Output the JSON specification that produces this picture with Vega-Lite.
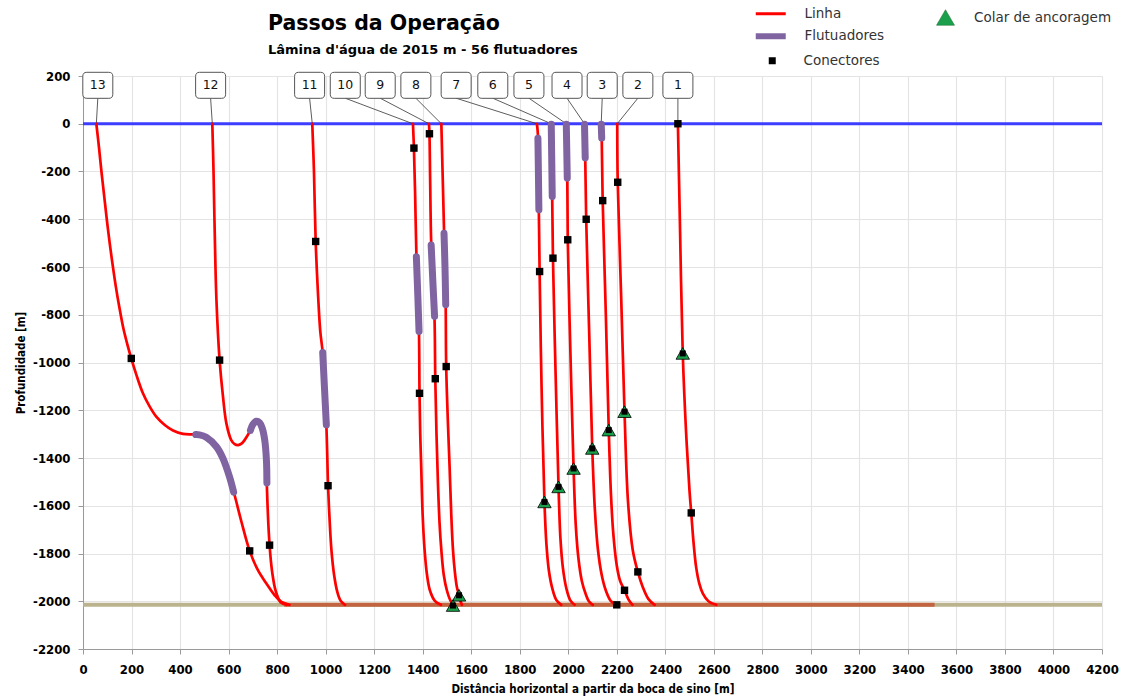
{
  "$schema": "https://vega.github.io/schema/vega-lite/v6.json",
  "width": 1019,
  "height": 573,
  "autosize": {"type": "none"},
  "padding": {"left": 83, "top": 76, "right": 19, "bottom": 51},
  "background": "white",
  "title": {
    "text": "Passos da Operação",
    "subtitle": "Lâmina d'água de 2015 m - 56 flutuadores",
    "anchor": "start",
    "frame": "group",
    "dx": 185,
    "offset": -50,
    "font": "DejaVu Sans",
    "fontSize": 20.5,
    "fontWeight": "bold",
    "color": "#000000",
    "subtitleFont": "DejaVu Sans",
    "subtitleFontSize": 13,
    "subtitleFontWeight": "bold",
    "subtitleColor": "#000000",
    "subtitlePadding": 10
  },
  "config": {
    "view": {"stroke": null},
    "axis": {
      "domainColor": "#9a9a9a",
      "tickColor": "#9a9a9a",
      "gridColor": "#e4e4e4",
      "gridWidth": 1.2,
      "tickSize": 5,
      "labelFont": "DejaVu Sans Condensed, DejaVu Sans",
      "labelFontWeight": "bold",
      "labelFontSize": 13,
      "labelColor": "#000000",
      "labelExpr": "'' + datum.value",
      "titleFont": "DejaVu Sans Condensed, DejaVu Sans",
      "titleFontWeight": "bold",
      "titleFontSize": 11.5,
      "titleColor": "#000000"
    },
    "legend": {
      "labelFont": "DejaVu Sans",
      "labelFontSize": 13.5,
      "labelColor": "#333333",
      "padding": 0
    }
  },
  "datasets": {
    "superficie": [{"y": 0}],
    "fundo": [{"y": -2015}],
    "trecho": [{"x": 830, "x2": 3510, "y": -2015}],
    "rotulos": [
      {"n": "13", "x": 61, "cx": 55},
      {"n": "12", "x": 526, "cx": 533},
      {"n": "11", "x": 934, "cx": 945},
      {"n": "10", "x": 1081, "cx": 1360},
      {"n": "9", "x": 1225, "cx": 1426},
      {"n": "8", "x": 1372, "cx": 1477},
      {"n": "7", "x": 1538, "cx": 1871},
      {"n": "6", "x": 1689, "cx": 1930},
      {"n": "5", "x": 1838, "cx": 1992},
      {"n": "4", "x": 1995, "cx": 2067},
      {"n": "3", "x": 2140, "cx": 2136},
      {"n": "2", "x": 2287, "cx": 2202},
      {"n": "1", "x": 2452, "cx": 2452}
    ],
    "linha": [
      {"c": 13, "i": 1, "x": 55, "y": 0},
      {"c": 13, "i": 2, "x": 66, "y": -100},
      {"c": 13, "i": 3, "x": 76, "y": -200},
      {"c": 13, "i": 4, "x": 87, "y": -300},
      {"c": 13, "i": 5, "x": 98, "y": -400},
      {"c": 13, "i": 6, "x": 110, "y": -500},
      {"c": 13, "i": 7, "x": 122, "y": -590},
      {"c": 13, "i": 8, "x": 135, "y": -680},
      {"c": 13, "i": 9, "x": 150, "y": -770},
      {"c": 13, "i": 10, "x": 167, "y": -860},
      {"c": 13, "i": 11, "x": 183, "y": -925},
      {"c": 13, "i": 12, "x": 199, "y": -983},
      {"c": 13, "i": 13, "x": 220, "y": -1052},
      {"c": 13, "i": 14, "x": 247, "y": -1129},
      {"c": 13, "i": 15, "x": 275, "y": -1185},
      {"c": 13, "i": 16, "x": 302, "y": -1227},
      {"c": 13, "i": 17, "x": 337, "y": -1262},
      {"c": 13, "i": 18, "x": 371, "y": -1285},
      {"c": 13, "i": 19, "x": 412, "y": -1299},
      {"c": 13, "i": 20, "x": 453, "y": -1301},
      {"c": 13, "i": 21, "x": 480, "y": -1303},
      {"c": 13, "i": 22, "x": 508, "y": -1313},
      {"c": 13, "i": 23, "x": 550, "y": -1353},
      {"c": 13, "i": 24, "x": 577, "y": -1402},
      {"c": 13, "i": 25, "x": 604, "y": -1479},
      {"c": 13, "i": 26, "x": 625, "y": -1556},
      {"c": 13, "i": 27, "x": 653, "y": -1667},
      {"c": 13, "i": 28, "x": 687, "y": -1789},
      {"c": 13, "i": 29, "x": 721, "y": -1870},
      {"c": 13, "i": 30, "x": 756, "y": -1926},
      {"c": 13, "i": 31, "x": 790, "y": -1975},
      {"c": 13, "i": 32, "x": 818, "y": -2003},
      {"c": 13, "i": 33, "x": 851, "y": -2015},

      {"c": 12, "i": 1, "x": 533, "y": 0},
      {"c": 12, "i": 2, "x": 538, "y": -200},
      {"c": 12, "i": 3, "x": 543, "y": -458},
      {"c": 12, "i": 4, "x": 550, "y": -738},
      {"c": 12, "i": 5, "x": 563, "y": -990},
      {"c": 12, "i": 6, "x": 577, "y": -1143},
      {"c": 12, "i": 7, "x": 591, "y": -1255},
      {"c": 12, "i": 8, "x": 611, "y": -1325},
      {"c": 12, "i": 9, "x": 625, "y": -1342},
      {"c": 12, "i": 10, "x": 639, "y": -1346},
      {"c": 12, "i": 11, "x": 653, "y": -1340},
      {"c": 12, "i": 12, "x": 666, "y": -1325},
      {"c": 12, "i": 13, "x": 687, "y": -1290},
      {"c": 12, "i": 14, "x": 700, "y": -1260},
      {"c": 12, "i": 15, "x": 714, "y": -1246},
      {"c": 12, "i": 16, "x": 728, "y": -1252},
      {"c": 12, "i": 17, "x": 739, "y": -1276},
      {"c": 12, "i": 18, "x": 749, "y": -1325},
      {"c": 12, "i": 19, "x": 756, "y": -1409},
      {"c": 12, "i": 20, "x": 758, "y": -1521},
      {"c": 12, "i": 21, "x": 769, "y": -1765},
      {"c": 12, "i": 22, "x": 780, "y": -1880},
      {"c": 12, "i": 23, "x": 795, "y": -1960},
      {"c": 12, "i": 24, "x": 815, "y": -2005},
      {"c": 12, "i": 25, "x": 840, "y": -2015},

      {"c": 11, "i": 1, "x": 945, "y": 0},
      {"c": 11, "i": 2, "x": 952, "y": -200},
      {"c": 11, "i": 3, "x": 959, "y": -493},
      {"c": 11, "i": 4, "x": 968, "y": -700},
      {"c": 11, "i": 5, "x": 978, "y": -870},
      {"c": 11, "i": 6, "x": 988, "y": -960},
      {"c": 11, "i": 7, "x": 995, "y": -1100},
      {"c": 11, "i": 8, "x": 1003, "y": -1261},
      {"c": 11, "i": 9, "x": 1007, "y": -1400},
      {"c": 11, "i": 10, "x": 1010, "y": -1516},
      {"c": 11, "i": 11, "x": 1016, "y": -1650},
      {"c": 11, "i": 12, "x": 1024, "y": -1786},
      {"c": 11, "i": 13, "x": 1035, "y": -1890},
      {"c": 11, "i": 14, "x": 1048, "y": -1960},
      {"c": 11, "i": 15, "x": 1062, "y": -1998},
      {"c": 11, "i": 16, "x": 1080, "y": -2015},

      {"c": 10, "i": 1, "x": 1360, "y": 0},
      {"c": 10, "i": 2, "x": 1364, "y": -102},
      {"c": 10, "i": 3, "x": 1369, "y": -300},
      {"c": 10, "i": 4, "x": 1374, "y": -542},
      {"c": 10, "i": 5, "x": 1380, "y": -720},
      {"c": 10, "i": 6, "x": 1385, "y": -885},
      {"c": 10, "i": 7, "x": 1387, "y": -1129},
      {"c": 10, "i": 8, "x": 1390, "y": -1300},
      {"c": 10, "i": 9, "x": 1394, "y": -1437},
      {"c": 10, "i": 10, "x": 1400, "y": -1640},
      {"c": 10, "i": 11, "x": 1408, "y": -1786},
      {"c": 10, "i": 12, "x": 1418, "y": -1890},
      {"c": 10, "i": 13, "x": 1430, "y": -1955},
      {"c": 10, "i": 14, "x": 1450, "y": -1998},
      {"c": 10, "i": 15, "x": 1475, "y": -2015},

      {"c": 9, "i": 1, "x": 1426, "y": 0},
      {"c": 9, "i": 2, "x": 1428, "y": -42},
      {"c": 9, "i": 3, "x": 1431, "y": -250},
      {"c": 9, "i": 4, "x": 1435, "y": -493},
      {"c": 9, "i": 5, "x": 1442, "y": -660},
      {"c": 9, "i": 6, "x": 1449, "y": -822},
      {"c": 9, "i": 7, "x": 1452, "y": -1068},
      {"c": 9, "i": 8, "x": 1457, "y": -1300},
      {"c": 9, "i": 9, "x": 1463, "y": -1507},
      {"c": 9, "i": 10, "x": 1470, "y": -1680},
      {"c": 9, "i": 11, "x": 1477, "y": -1786},
      {"c": 9, "i": 12, "x": 1487, "y": -1890},
      {"c": 9, "i": 13, "x": 1500, "y": -1955},
      {"c": 9, "i": 14, "x": 1515, "y": -1998},
      {"c": 9, "i": 15, "x": 1528, "y": -2015},

      {"c": 8, "i": 1, "x": 1477, "y": 0},
      {"c": 8, "i": 2, "x": 1482, "y": -200},
      {"c": 8, "i": 3, "x": 1488, "y": -444},
      {"c": 8, "i": 4, "x": 1492, "y": -600},
      {"c": 8, "i": 5, "x": 1495, "y": -773},
      {"c": 8, "i": 6, "x": 1497, "y": -1017},
      {"c": 8, "i": 7, "x": 1504, "y": -1250},
      {"c": 8, "i": 8, "x": 1511, "y": -1437},
      {"c": 8, "i": 9, "x": 1518, "y": -1640},
      {"c": 8, "i": 10, "x": 1525, "y": -1786},
      {"c": 8, "i": 11, "x": 1533, "y": -1880},
      {"c": 8, "i": 12, "x": 1541, "y": -1940},
      {"c": 8, "i": 13, "x": 1550, "y": -1975},
      {"c": 8, "i": 14, "x": 1556, "y": -2000},
      {"c": 8, "i": 15, "x": 1562, "y": -2015},

      {"c": 7, "i": 1, "x": 1871, "y": 0},
      {"c": 7, "i": 2, "x": 1875, "y": -46},
      {"c": 7, "i": 3, "x": 1877, "y": -200},
      {"c": 7, "i": 4, "x": 1879, "y": -375},
      {"c": 7, "i": 5, "x": 1882, "y": -619},
      {"c": 7, "i": 6, "x": 1890, "y": -1100},
      {"c": 7, "i": 7, "x": 1902, "y": -1584},
      {"c": 7, "i": 8, "x": 1910, "y": -1760},
      {"c": 7, "i": 9, "x": 1920, "y": -1870},
      {"c": 7, "i": 10, "x": 1934, "y": -1945},
      {"c": 7, "i": 11, "x": 1951, "y": -1995},
      {"c": 7, "i": 12, "x": 1971, "y": -2015},

      {"c": 6, "i": 1, "x": 1930, "y": 0},
      {"c": 6, "i": 2, "x": 1932, "y": -150},
      {"c": 6, "i": 3, "x": 1934, "y": -319},
      {"c": 6, "i": 4, "x": 1937, "y": -563},
      {"c": 6, "i": 5, "x": 1948, "y": -1050},
      {"c": 6, "i": 6, "x": 1960, "y": -1521},
      {"c": 6, "i": 7, "x": 1968, "y": -1740},
      {"c": 6, "i": 8, "x": 1978, "y": -1860},
      {"c": 6, "i": 9, "x": 1992, "y": -1945},
      {"c": 6, "i": 10, "x": 2008, "y": -1995},
      {"c": 6, "i": 11, "x": 2026, "y": -2015},

      {"c": 5, "i": 1, "x": 1992, "y": 0},
      {"c": 5, "i": 2, "x": 1996, "y": -228},
      {"c": 5, "i": 3, "x": 1998, "y": -486},
      {"c": 5, "i": 4, "x": 2010, "y": -1000},
      {"c": 5, "i": 5, "x": 2022, "y": -1444},
      {"c": 5, "i": 6, "x": 2031, "y": -1680},
      {"c": 5, "i": 7, "x": 2042, "y": -1820},
      {"c": 5, "i": 8, "x": 2056, "y": -1915},
      {"c": 5, "i": 9, "x": 2072, "y": -1970},
      {"c": 5, "i": 10, "x": 2085, "y": -2000},
      {"c": 5, "i": 11, "x": 2101, "y": -2015},

      {"c": 4, "i": 1, "x": 2067, "y": 0},
      {"c": 4, "i": 2, "x": 2070, "y": -143},
      {"c": 4, "i": 3, "x": 2074, "y": -400},
      {"c": 4, "i": 4, "x": 2087, "y": -900},
      {"c": 4, "i": 5, "x": 2099, "y": -1360},
      {"c": 4, "i": 6, "x": 2110, "y": -1620},
      {"c": 4, "i": 7, "x": 2122, "y": -1780},
      {"c": 4, "i": 8, "x": 2138, "y": -1890},
      {"c": 4, "i": 9, "x": 2155, "y": -1955},
      {"c": 4, "i": 10, "x": 2175, "y": -1998},
      {"c": 4, "i": 11, "x": 2198, "y": -2015},

      {"c": 3, "i": 1, "x": 2136, "y": 0},
      {"c": 3, "i": 2, "x": 2138, "y": -60},
      {"c": 3, "i": 3, "x": 2142, "y": -322},
      {"c": 3, "i": 4, "x": 2155, "y": -800},
      {"c": 3, "i": 5, "x": 2167, "y": -1283},
      {"c": 3, "i": 6, "x": 2176, "y": -1550},
      {"c": 3, "i": 7, "x": 2186, "y": -1720},
      {"c": 3, "i": 8, "x": 2200, "y": -1850},
      {"c": 3, "i": 9, "x": 2214, "y": -1915},
      {"c": 3, "i": 10, "x": 2232, "y": -1954},
      {"c": 3, "i": 11, "x": 2248, "y": -1992},
      {"c": 3, "i": 12, "x": 2265, "y": -2015},

      {"c": 2, "i": 1, "x": 2202, "y": 0},
      {"c": 2, "i": 2, "x": 2204, "y": -245},
      {"c": 2, "i": 3, "x": 2218, "y": -720},
      {"c": 2, "i": 4, "x": 2232, "y": -1206},
      {"c": 2, "i": 5, "x": 2246, "y": -1577},
      {"c": 2, "i": 6, "x": 2266, "y": -1786},
      {"c": 2, "i": 7, "x": 2287, "y": -1877},
      {"c": 2, "i": 8, "x": 2307, "y": -1940},
      {"c": 2, "i": 9, "x": 2330, "y": -1990},
      {"c": 2, "i": 10, "x": 2356, "y": -2015},

      {"c": 1, "i": 1, "x": 2452, "y": 0},
      {"c": 1, "i": 2, "x": 2460, "y": -400},
      {"c": 1, "i": 3, "x": 2472, "y": -962},
      {"c": 1, "i": 4, "x": 2486, "y": -1297},
      {"c": 1, "i": 5, "x": 2500, "y": -1540},
      {"c": 1, "i": 6, "x": 2507, "y": -1630},
      {"c": 1, "i": 7, "x": 2517, "y": -1760},
      {"c": 1, "i": 8, "x": 2527, "y": -1856},
      {"c": 1, "i": 9, "x": 2540, "y": -1925},
      {"c": 1, "i": 10, "x": 2555, "y": -1968},
      {"c": 1, "i": 11, "x": 2578, "y": -2000},
      {"c": 1, "i": 12, "x": 2610, "y": -2015}
    ],
    "flutuadores": [
      {"c": 13, "i": 1, "x": 465, "y": -1302},
      {"c": 13, "i": 2, "x": 480, "y": -1303},
      {"c": 13, "i": 3, "x": 508, "y": -1313},
      {"c": 13, "i": 4, "x": 550, "y": -1353},
      {"c": 13, "i": 5, "x": 577, "y": -1402},
      {"c": 13, "i": 6, "x": 604, "y": -1479},
      {"c": 13, "i": 7, "x": 621, "y": -1543},
      {"c": 12, "i": 1, "x": 690, "y": -1284},
      {"c": 12, "i": 2, "x": 700, "y": -1260},
      {"c": 12, "i": 3, "x": 714, "y": -1246},
      {"c": 12, "i": 4, "x": 728, "y": -1252},
      {"c": 12, "i": 5, "x": 739, "y": -1276},
      {"c": 12, "i": 6, "x": 749, "y": -1325},
      {"c": 12, "i": 7, "x": 756, "y": -1409},
      {"c": 12, "i": 8, "x": 758, "y": -1505},
      {"c": 11, "i": 1, "x": 988, "y": -958},
      {"c": 11, "i": 2, "x": 995, "y": -1100},
      {"c": 11, "i": 3, "x": 1003, "y": -1261},
      {"c": 10, "i": 1, "x": 1374, "y": -557},
      {"c": 10, "i": 2, "x": 1380, "y": -720},
      {"c": 10, "i": 3, "x": 1385, "y": -870},
      {"c": 9, "i": 1, "x": 1435, "y": -508},
      {"c": 9, "i": 2, "x": 1442, "y": -660},
      {"c": 9, "i": 3, "x": 1449, "y": -807},
      {"c": 8, "i": 1, "x": 1488, "y": -459},
      {"c": 8, "i": 2, "x": 1492, "y": -600},
      {"c": 8, "i": 3, "x": 1495, "y": -758},
      {"c": 7, "i": 1, "x": 1875, "y": -61},
      {"c": 7, "i": 2, "x": 1877, "y": -200},
      {"c": 7, "i": 3, "x": 1879, "y": -360},
      {"c": 6, "i": 1, "x": 1930, "y": -2},
      {"c": 6, "i": 2, "x": 1932, "y": -150},
      {"c": 6, "i": 3, "x": 1934, "y": -305},
      {"c": 5, "i": 1, "x": 1992, "y": -2},
      {"c": 5, "i": 2, "x": 1996, "y": -228},
      {"c": 4, "i": 1, "x": 2067, "y": -2},
      {"c": 4, "i": 2, "x": 2070, "y": -143},
      {"c": 3, "i": 1, "x": 2136, "y": -2},
      {"c": 3, "i": 2, "x": 2138, "y": -60}
    ],
    "conectores": [
      {"x": 199, "y": -983}, {"x": 687, "y": -1789},
      {"x": 563, "y": -990}, {"x": 769, "y": -1765},
      {"x": 959, "y": -493}, {"x": 1010, "y": -1516},
      {"x": 1364, "y": -102}, {"x": 1387, "y": -1129},
      {"x": 1428, "y": -42}, {"x": 1452, "y": -1068},
      {"x": 1497, "y": -1017},
      {"x": 1882, "y": -619},
      {"x": 1937, "y": -563},
      {"x": 1998, "y": -486},
      {"x": 2074, "y": -400}, {"x": 2200, "y": -2015},
      {"x": 2142, "y": -322}, {"x": 2232, "y": -1954},
      {"x": 2204, "y": -245}, {"x": 2287, "y": -1877},
      {"x": 2452, "y": 0}, {"x": 2507, "y": -1630}
    ],
    "colares": [
      {"x": 2472, "y": -962},
      {"x": 2232, "y": -1206},
      {"x": 2167, "y": -1283},
      {"x": 2099, "y": -1360},
      {"x": 2022, "y": -1444},
      {"x": 1960, "y": -1521},
      {"x": 1902, "y": -1584},
      {"x": 1550, "y": -1975},
      {"x": 1525, "y": -2018}
    ]
  },
  "layer": [
    {
      "data": {"name": "superficie"},
      "mark": {"type": "rule", "color": "#3d3dff", "strokeWidth": 3},
      "encoding": {
        "y": {
          "field": "y", "type": "quantitative",
          "scale": {"domain": [-2200, 200], "nice": false, "zero": false},
          "axis": {
            "title": "Profundidade [m]",
            "values": [-2200, -2000, -1800, -1600, -1400, -1200, -1000, -800, -600, -400, -200, 0, 200],
            "labelPadding": 8,
            "titlePadding": 6,
            "grid": true
          }
        }
      }
    },
    {
      "data": {"name": "fundo"},
      "mark": {"type": "rule", "color": "#bab38e", "strokeWidth": 4},
      "encoding": {"y": {"field": "y", "type": "quantitative"}}
    },
    {
      "data": {"name": "trecho"},
      "mark": {"type": "rule", "color": "#c2643f", "strokeWidth": 4},
      "encoding": {
        "x": {
          "field": "x", "type": "quantitative",
          "scale": {"domain": [0, 4200], "nice": false, "zero": false},
          "axis": {
            "title": "Distância horizontal a partir da boca de sino [m]",
            "values": [0, 200, 400, 600, 800, 1000, 1200, 1400, 1600, 1800, 2000, 2200, 2400, 2600, 2800, 3000, 3200, 3400, 3600, 3800, 4000, 4200],
            "labelPadding": 9,
            "titlePadding": 7,
            "labelFlush": false,
            "labelOverlap": false,
            "grid": true
          }
        },
        "x2": {"field": "x2"},
        "y": {"field": "y", "type": "quantitative"}
      }
    },
    {
      "data": {"name": "rotulos"},
      "mark": {"type": "rule", "color": "#333333", "strokeWidth": 0.8},
      "encoding": {
        "x": {"field": "x", "type": "quantitative"},
        "x2": {"field": "cx"},
        "y": {"datum": 107},
        "y2": {"datum": 0}
      }
    },
    {
      "data": {"name": "rotulos"},
      "mark": {
        "type": "point",
        "shape": "M-0.733,-0.867L0.733,-0.867Q1,-0.867,1,-0.6L1,0.6Q1,0.867,0.733,0.867L-0.733,0.867Q-1,0.867,-1,0.6L-1,-0.6Q-1,-0.867,-0.733,-0.867Z",
        "size": 900,
        "filled": true,
        "fill": "#ffffff",
        "stroke": "#555555",
        "strokeWidth": 1,
        "opacity": 1
      },
      "encoding": {
        "x": {"field": "x", "type": "quantitative"},
        "y": {"datum": 161}
      }
    },
    {
      "data": {"name": "rotulos"},
      "mark": {"type": "text", "font": "DejaVu Sans", "fontSize": 12.5, "color": "#111111", "align": "center", "baseline": "middle"},
      "encoding": {
        "x": {"field": "x", "type": "quantitative"},
        "y": {"datum": 161},
        "text": {"field": "n"}
      }
    },
    {
      "data": {"name": "linha"},
      "mark": {"type": "line", "interpolate": "catmull-rom", "strokeWidth": 2.7, "strokeCap": "round", "strokeJoin": "round"},
      "encoding": {
        "x": {"field": "x", "type": "quantitative"},
        "y": {"field": "y", "type": "quantitative"},
        "detail": {"field": "c"},
        "order": {"field": "i"},
        "color": {
          "datum": "Linha",
          "scale": {"domain": ["Linha", "Flutuadores"], "range": ["#ff0000", "#8064a2"]},
          "legend": {
            "title": null,
            "orient": "none",
            "legendX": 681,
            "legendY": -69,
            "symbolType": "stroke",
            "symbolSize": 900,
            "rowPadding": 2.5,
            "labelOffset": 27,
            "values": ["Linha", "Flutuadores"],
            "encode": {"symbols": {"update": {"strokeWidth": {"signal": "datum.value === 'Flutuadores' ? 6 : 3"}}}}
          }
        }
      }
    },
    {
      "data": {"name": "flutuadores"},
      "mark": {"type": "line", "interpolate": "catmull-rom", "strokeWidth": 7, "strokeCap": "round", "strokeJoin": "round"},
      "encoding": {
        "x": {"field": "x", "type": "quantitative"},
        "y": {"field": "y", "type": "quantitative"},
        "detail": {"field": "c"},
        "order": {"field": "i"},
        "color": {"datum": "Flutuadores"}
      }
    },
    {
      "data": {"name": "conectores"},
      "mark": {"type": "point", "filled": true, "color": "#000000", "size": 55, "opacity": 1},
      "encoding": {
        "x": {"field": "x", "type": "quantitative"},
        "y": {"field": "y", "type": "quantitative"},
        "shape": {
          "datum": "Conectores",
          "scale": {"domain": ["Conectores"], "range": ["square"]},
          "legend": {
            "title": null,
            "orient": "none",
            "legendX": 682.5,
            "legendY": -22,
            "symbolSize": 49,
            "symbolFillColor": "#000000",
            "symbolStrokeColor": "#000000",
            "labelOffset": 24.5
          }
        }
      }
    },
    {
      "data": {"name": "colares"},
      "mark": {"type": "point", "shape": "triangle-up", "filled": true, "stroke": "#000000", "strokeWidth": 0.8, "size": 180, "opacity": 1},
      "encoding": {
        "x": {"field": "x", "type": "quantitative"},
        "y": {"field": "y", "type": "quantitative"},
        "fill": {
          "datum": "Colar de ancoragem",
          "scale": {"domain": ["Colar de ancoragem"], "range": ["#1aa04b"]},
          "legend": {
            "title": null,
            "orient": "none",
            "legendX": 853,
            "legendY": -68,
            "symbolType": "triangle-up",
            "symbolSize": 324,
            "symbolStrokeColor": "#1a6a30",
            "symbolStrokeWidth": 0.5,
            "labelOffset": 19
          }
        }
      }
    },
    {
      "data": {"name": "colares"},
      "mark": {"type": "point", "shape": "square", "filled": true, "color": "#000000", "size": 36, "opacity": 1},
      "encoding": {
        "x": {"field": "x", "type": "quantitative"},
        "y": {"field": "y", "type": "quantitative"}
      }
    }
  ]
}
